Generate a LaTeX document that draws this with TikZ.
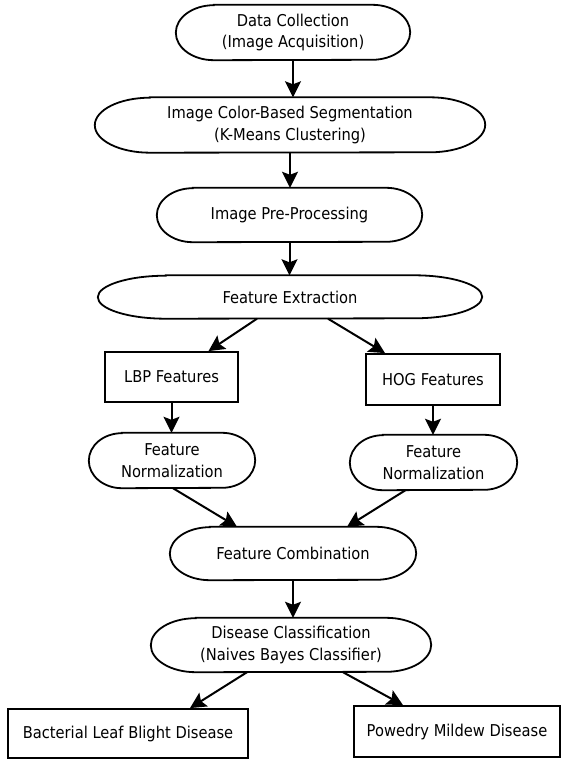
\documentclass[tikz,border=0pt]{standalone}
\usepackage{fontspec}
\setmainfont{DejaVu Sans}[FakeStretch=0.9]
\usetikzlibrary{arrows.meta}

% outline of a terminal shape with elliptic ends, drawn around a named node
\newcommand\ovaloutline[3]{%
  \draw[outline] ([xshift=#2]#1.north west) -- ([xshift=-#2]#1.north east)
    arc[start angle=90,end angle=-90,x radius=#2,y radius=#3]
    -- ([xshift=#2]#1.south west)
    arc[start angle=270,end angle=90,x radius=#2,y radius=#3] -- cycle;}

\begin{document}
\begin{tikzpicture}[x=1pt,y=-1pt,
  outline/.style={line width=1.8pt},
  label/.style={inner sep=0pt,align=center,font=\fontsize{16.3}{21.5}\selectfont},
  oval/.style={label,draw=none},
  boxnode/.style={label,draw,line width=1.8pt},
  flow/.style={line width=2pt,-{Stealth[length=16pt,width=16pt,inset=3pt]}}]
\useasboundingbox (0,0) rectangle (562,759);

% main column
\node[oval,minimum width=234pt,minimum height=55pt] (dc) at (293,32.5)
  {Data Collection\\(Image Acquisition)};
\node[oval,minimum width=390pt,minimum height=55pt] (seg) at (290,125)
  {Image Color-Based Segmentation\\(K-Means Clustering)};
\node[oval,minimum width=265pt,minimum height=54pt] (pre) at (289.5,215)
  {Image Pre-Processing};
\node[oval,minimum width=384pt,minimum height=43pt] (fe) at (290,297)
  {Feature Extraction};

% two feature branches
\node[boxnode,minimum width=133pt,minimum height=50pt] (lbp) at (171.5,377)
  {LBP Features};
\node[boxnode,minimum width=134pt,minimum height=51pt] (hog) at (433,379.5)
  {HOG Features};
\node[oval,minimum width=166pt,minimum height=55pt] (nl) at (172,460.5)
  {Feature\\Normalization};
\node[oval,minimum width=167pt,minimum height=55pt] (nr) at (433.5,462.5)
  {Feature\\Normalization};

% merge and classification
\node[oval,minimum width=246pt,minimum height=53pt] (fc) at (293,553.5)
  {Feature Combination};
\node[oval,minimum width=280pt,minimum height=54pt] (dcl) at (291,645)
  {Disease Classification\\(Naives Bayes Classifier)};

% outcomes
\node[boxnode,minimum width=240pt,minimum height=49pt] (bac) at (128,733.5)
  {Bacterial Leaf Blight Disease};
\node[boxnode,minimum width=206pt,minimum height=51pt] (pow) at (457,731.5)
  {Powedry Mildew Disease};

% terminal outlines
\ovaloutline{dc}{38pt}{27.5pt}
\ovaloutline{seg}{55pt}{27.5pt}
\ovaloutline{pre}{36pt}{27pt}
\ovaloutline{fe}{68pt}{21.5pt}
\ovaloutline{nl}{33pt}{27.5pt}
\ovaloutline{nr}{33pt}{27.5pt}
\ovaloutline{fc}{40pt}{26.5pt}
\ovaloutline{dcl}{45pt}{27pt}

% connectors
\draw[flow] (dc.south) -- (dc.south |- seg.north);
\draw[flow] (seg.south) -- (seg.south |- pre.north);
\draw[flow] (pre.south) -- (pre.south |- fe.north);
\draw[flow] ([xshift=-33]fe.south) -- ([xshift=37]lbp.north);
\draw[flow] ([xshift=38]fe.south) -- ([xshift=-48]hog.north);
\draw[flow] (lbp.south) -- (lbp.south |- nl.north);
\draw[flow] (hog.south) -- (hog.south |- nr.north);
\draw[flow] ([xshift=1]nl.south) -- ([xshift=-56]fc.north);
\draw[flow] ([xshift=-28]nr.south) -- ([xshift=54]fc.north);
\draw[flow] (fc.south) -- (fc.south |- dcl.north);
\draw[flow] ([xshift=-44]dcl.south) -- ([xshift=62]bac.north);
\draw[flow] ([xshift=52]dcl.south) -- ([xshift=-54]pow.north);
\end{tikzpicture}
\end{document}
